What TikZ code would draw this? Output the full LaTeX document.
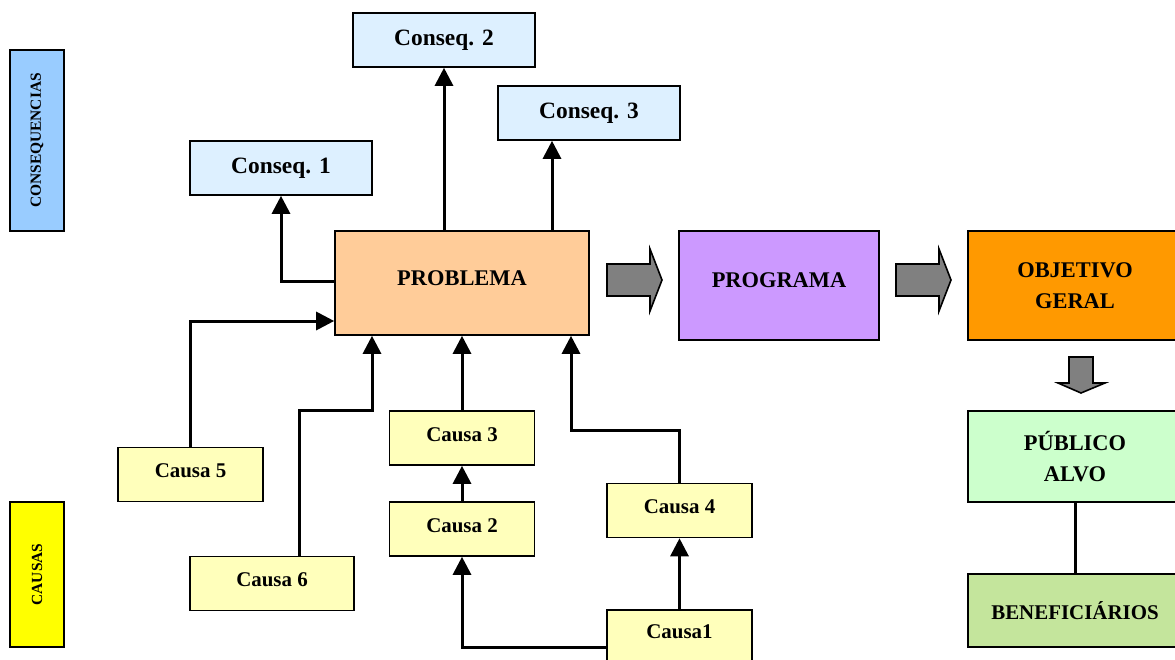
\documentclass[tikz,border=0pt]{standalone}
\usepackage{fontspec}
\setmainfont{Liberation Serif}
\usetikzlibrary{arrows.meta,calc}
\definecolor{consfill}{HTML}{DDF0FF}
\definecolor{conslab}{HTML}{99CCFF}
\definecolor{caulab}{HTML}{FFFF00}
\definecolor{caufill}{HTML}{FFFFBB}
\definecolor{probfill}{HTML}{FFCC99}
\definecolor{progfill}{HTML}{CC99FF}
\definecolor{objfill}{HTML}{FF9900}
\definecolor{pubfill}{HTML}{CCFFCC}
\definecolor{benfill}{HTML}{C4E59C}
\definecolor{blockgray}{HTML}{808080}
\tikzset{
  box/.style={draw=black, line width=1.6bp, inner sep=0pt, align=center, text=black},
  bigtxt/.style={font=\fontsize{22.5}{31}\selectfont\bfseries},
  contxt/.style={font=\fontsize{23.5}{28}\selectfont\bfseries},
  caustxt/.style={font=\fontsize{21}{24}\selectfont\bfseries},
  sidetxt/.style={font=\fontsize{15.5}{18}\selectfont\bfseries, rotate=90},
  conbox/.style={box, contxt, fill=consfill, minimum width=182bp, minimum height=54bp},
  caubox/.style={box, caustxt, fill=caufill, minimum width=145bp, minimum height=54bp, text depth=7bp},
  arr/.style={line width=3bp, -{Triangle[width=18bp,length=18bp]}},
  plain/.style={line width=3bp},
  blockarrow/.style={fill=blockgray, draw=black, line width=1.6bp, line join=miter}
}
\begin{document}
\begin{tikzpicture}[x=1bp,y=-1bp]
\useasboundingbox[fill=white] (0,0) rectangle (1175,660);

% side labels
\node[box, fill=conslab, minimum width=54bp, minimum height=181bp] (lcons) at (37,140.5) {};
\node[sidetxt] at (lcons.center) {CONSEQUENCIAS};
\node[box, fill=caulab, minimum width=54bp, minimum height=145bp] (lcaus) at (37,574.5) {};
\node[sidetxt] at (lcaus.center) {CAUSAS};

% consequences
\node[conbox] (k2) at (444,40) {Conseq. 2};
\node[conbox] (k3) at (589,113) {Conseq. 3};
\node[conbox] (k1) at (281,168) {Conseq. 1};

% main row
\node[box, bigtxt, fill=probfill, minimum width=254bp, minimum height=104bp, text depth=10bp] (prob) at (462,283) {PROBLEMA};
\node[box, bigtxt, fill=progfill, minimum width=200bp, minimum height=109bp, text depth=10bp] (prog) at (779,285.5) {PROGRAMA};
\node[box, bigtxt, fill=objfill, minimum width=214bp, minimum height=109bp] (obj) at (1075,285.5) {OBJETIVO\\GERAL};
\node[box, bigtxt, fill=pubfill, minimum width=214bp, minimum height=91bp] (pub) at (1075,456.5) {PÚBLICO\\ALVO};
\node[box, caustxt, fill=benfill, minimum width=214bp, minimum height=73bp] (ben) at (1075,610.5) {BENEFICIÁRIOS};

% causes
\node[caubox, minimum width=145bp] (c5) at (190.5,474.5) {Causa 5};
\node[caubox, minimum width=164bp] (c6) at (272,583.5) {Causa 6};
\node[caubox] (c3) at (462,438) {Causa 3};
\node[caubox] (c2) at (462,529) {Causa 2};
\node[caubox] (c4) at (679.5,510.5) {Causa 4};
\node[caubox, minimum height=70bp] (c1) at (679.5,645) {};
\node[caustxt] at (679.5,632) {Causa1};

% connectors to consequences
\draw[arr] ([yshift=2bp]prob.west) -| (k1.south);
\draw[arr] (k2.south |- prob.north) -- (k2.south);
\draw[arr] ([xshift=-37bp]k3.south |- prob.north) -- ([xshift=-37bp]k3.south);

% causes connectors
\coordinate (p5) at ([yshift=-38bp]prob.west);
\draw[arr] (c5.north) |- (p5);
\coordinate (b6) at ([xshift=-90bp]prob.south);
\coordinate (t6) at (b6 |- c3.north);
\draw[arr] ([xshift=27bp]c6.north) |- (t6) -- (b6);
\draw[arr] (c3.north) -- (prob.south);
\draw[arr] (c2.north) -- (c3.south);
\coordinate (b4) at ([xshift=109bp]prob.south);
\coordinate (t4) at ($(b4)+(0,95)$);
\draw[arr] (c4.north) |- (t4) -- (b4);
\draw[arr] (c1.north -| c4.south) -- (c4.south);
\draw[arr] ([yshift=-2bp]c1.west) -| (c2.south);
\draw[plain] (pub.south) -- (ben.north);

% block arrows
\draw[blockarrow] (607,264) -- (650,264) -- (650,249) -- (662,280) -- (650,311) -- (650,296) -- (607,296) -- cycle;
\draw[blockarrow] (896,264) -- (939,264) -- (939,249) -- (951,280) -- (939,311) -- (939,296) -- (896,296) -- cycle;
\draw[blockarrow] (1069,357) -- (1093,357) -- (1093,383) -- (1105,383) -- (1081,393) -- (1058,383) -- (1069,383) -- cycle;
\end{tikzpicture}
\end{document}
